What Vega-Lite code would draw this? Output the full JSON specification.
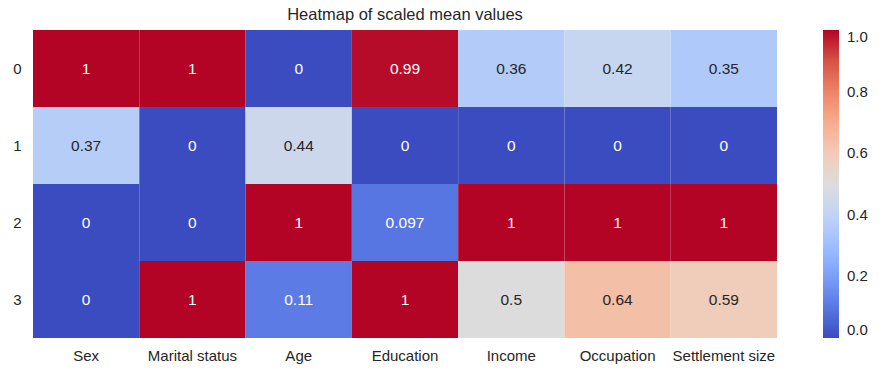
{
  "$schema": "https://vega.github.io/schema/vega-lite/v6.json",
  "width": 744,
  "height": 308,
  "padding": {"left": 12, "top": 6, "right": 5, "bottom": 5},
  "background": "white",
  "config": {
    "aria": false,
    "view": {"stroke": null},
    "title": {"fontSize": 16.5, "fontWeight": "normal", "color": "#262626", "offset": 7},
    "axis": {"labelFontSize": 15, "labelColor": "#262626", "domain": false, "ticks": false, "grid": false, "title": null}
  },
  "title": {"text": "Heatmap of scaled mean values", "anchor": "middle"},
  "data": {"values": [
    {"cluster": "0", "feature": "Sex", "value": 1, "label": "1"},
    {"cluster": "0", "feature": "Marital status", "value": 1, "label": "1"},
    {"cluster": "0", "feature": "Age", "value": 0, "label": "0"},
    {"cluster": "0", "feature": "Education", "value": 0.99, "label": "0.99"},
    {"cluster": "0", "feature": "Income", "value": 0.36, "label": "0.36"},
    {"cluster": "0", "feature": "Occupation", "value": 0.42, "label": "0.42"},
    {"cluster": "0", "feature": "Settlement size", "value": 0.35, "label": "0.35"},
    {"cluster": "1", "feature": "Sex", "value": 0.37, "label": "0.37"},
    {"cluster": "1", "feature": "Marital status", "value": 0, "label": "0"},
    {"cluster": "1", "feature": "Age", "value": 0.44, "label": "0.44"},
    {"cluster": "1", "feature": "Education", "value": 0, "label": "0"},
    {"cluster": "1", "feature": "Income", "value": 0, "label": "0"},
    {"cluster": "1", "feature": "Occupation", "value": 0, "label": "0"},
    {"cluster": "1", "feature": "Settlement size", "value": 0, "label": "0"},
    {"cluster": "2", "feature": "Sex", "value": 0, "label": "0"},
    {"cluster": "2", "feature": "Marital status", "value": 0, "label": "0"},
    {"cluster": "2", "feature": "Age", "value": 1, "label": "1"},
    {"cluster": "2", "feature": "Education", "value": 0.097, "label": "0.097"},
    {"cluster": "2", "feature": "Income", "value": 1, "label": "1"},
    {"cluster": "2", "feature": "Occupation", "value": 1, "label": "1"},
    {"cluster": "2", "feature": "Settlement size", "value": 1, "label": "1"},
    {"cluster": "3", "feature": "Sex", "value": 0, "label": "0"},
    {"cluster": "3", "feature": "Marital status", "value": 1, "label": "1"},
    {"cluster": "3", "feature": "Age", "value": 0.11, "label": "0.11"},
    {"cluster": "3", "feature": "Education", "value": 1, "label": "1"},
    {"cluster": "3", "feature": "Income", "value": 0.5, "label": "0.5"},
    {"cluster": "3", "feature": "Occupation", "value": 0.64, "label": "0.64"},
    {"cluster": "3", "feature": "Settlement size", "value": 0.59, "label": "0.59"}
  ]},
  "encoding": {
    "x": {"field": "feature", "type": "nominal", "sort": null,
      "scale": {"paddingInner": 0, "paddingOuter": 0},
      "axis": {"labelAngle": 0, "labelPadding": 10}},
    "y": {"field": "cluster", "type": "nominal", "sort": null,
      "scale": {"paddingInner": 0, "paddingOuter": 0},
      "axis": {"labelPadding": 12}}
  },
  "layer": [
    {
      "mark": {"type": "rect"},
      "encoding": {
        "fill": {"field": "value", "type": "quantitative",
          "scale": {"domain": [0, 0.1, 0.2, 0.3, 0.4, 0.5, 0.6, 0.7, 0.8, 0.9, 1], "interpolate": "rgb",
            "range": ["#3b4cc0", "#5977e3", "#7b9ff9", "#9ebeff", "#c0d4f5", "#dddcdc", "#f2cbb7", "#f7ac8e", "#ee8468", "#d65244", "#b40426"]},
          "legend": {"orient": "none", "legendX": 790, "legendY": 0, "direction": "vertical",
            "gradientLength": 308, "gradientThickness": 16,
            "title": null, "values": [0, 0.2, 0.4, 0.6, 0.8, 1], "format": ".1f",
            "labelFontSize": 15, "labelColor": "#262626", "labelOffset": 8}}
      }
    },
    {
      "mark": {"type": "text", "fontSize": 15.5},
      "encoding": {
        "text": {"field": "label", "type": "nominal"},
        "color": {"field": "value", "type": "quantitative",
          "scale": {"type": "threshold", "domain": [0.2, 0.8], "range": ["white", "#262626", "white"]},
          "legend": null}
      }
    }
  ]
}
